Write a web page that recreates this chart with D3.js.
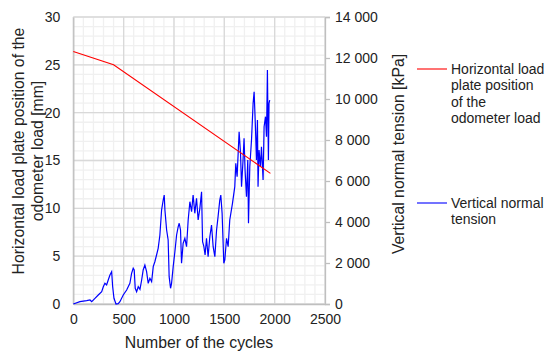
<!DOCTYPE html>
<html>
<head>
<meta charset="utf-8">
<script src="https://cdn.jsdelivr.net/npm/d3@7"></script>
<style>
  body { margin: 0; background: #fff; }
  svg { font-family: "Liberation Sans", Arial, sans-serif; }
</style>
</head>
<body>
<svg width="546" height="354"></svg>
<script>
// horizontal load plate position [mm] vs cycles
var posCycles = [0, 400, 1958];
var posMm = [26.4, 25.0, 13.65];

// vertical normal tension [kPa] vs cycles
var tensionCycles = [0, 66, 133, 166, 183, 215, 248, 282, 298, 314, 331, 347, 364, 381, 391, 404, 424, 446, 463, 496,
    530, 562, 579, 595, 605, 615, 629, 645, 662, 679, 694, 711, 728, 744, 761, 778, 794, 810, 827, 843,
    860, 877, 893, 903, 910, 927, 942, 952, 966, 976, 992, 1009, 1026, 1042, 1052, 1065, 1075, 1091, 1108, 1125,
    1141, 1158, 1175, 1190, 1207, 1224, 1240, 1257, 1274, 1284, 1297, 1309, 1323, 1339, 1356, 1373, 1389, 1406, 1423, 1438,
    1455, 1465, 1478, 1495, 1505, 1522, 1538, 1554, 1581, 1604, 1614, 1627, 1647, 1661, 1671, 1686, 1696, 1706, 1720, 1733,
    1740, 1753, 1770, 1786, 1796, 1809, 1819, 1829, 1835, 1845, 1859, 1869, 1879, 1885, 1895, 1909, 1919, 1928, 1938, 1944, 1951];
var tensionKPa = [0, 112, 161, 195, 112, 278, 439, 600, 844, 1010, 927, 1171, 1415, 1576, 844, 278, 0, 20, 112, 439,
    683, 1010, 1498, 1741, 1659, 766, 600, 844, 717, 1171, 1659, 1902, 1576, 1010, 1254, 1088, 1820, 2063, 2390, 2717,
    3366, 4585, 5073, 5317, 4585, 3610, 3122, 1332, 766, 1010, 1820, 2551, 3366, 3771, 3937, 3610, 1985, 2961, 3205, 2795,
    4098, 4990, 4502, 5317, 4424, 5156, 4098, 4668, 5478, 3039, 2795, 2390, 3205, 2307, 3283, 3854, 2795, 2307, 3610, 4259,
    5073, 5317, 4424, 1985, 2146, 3205, 2795, 4098, 4912, 5722, 6863, 6210, 8405, 7351, 5722, 7024, 8083, 6537, 5234, 7024,
    3937, 6698, 8000, 9790, 10356, 8649, 7024, 8976, 5722, 7512, 6698, 7673, 6698, 6049, 8649, 9137, 8161, 11415, 7024, 9790, 9951];

var xTicks = [0, 500, 1000, 1500, 2000, 2500];
var leftTicks = [0, 5, 10, 15, 20, 25, 30];
var rightTicks = [0, 2000, 4000, 6000, 8000, 10000, 12000, 14000];

var svg = d3.select("svg"),
    plotLeft = 73.3,
    plotRight = 325,
    plotTop = 17,
    plotBottom = 304;

var x = d3.scaleLinear().domain([0, 2500]).range([plotLeft, plotRight]);
var yL = d3.scaleLinear().domain([0, 30]).range([plotBottom, plotTop]);
var yR = d3.scaleLinear().domain([0, 14000]).range([plotBottom, plotTop]);

// minor grid
var minorX = d3.range(0, 2501, 100);
var minorY = d3.range(0, 31, 1);
var grid = svg.append("g");
minorX.forEach(function (v) {
    grid.append("line").attr("x1", x(v)).attr("x2", x(v)).attr("y1", plotTop).attr("y2", plotBottom)
        .attr("stroke", "#f0f0f0").attr("stroke-width", 1.3);
});
minorY.forEach(function (v) {
    grid.append("line").attr("x1", plotLeft).attr("x2", plotRight).attr("y1", yL(v)).attr("y2", yL(v))
        .attr("stroke", "#f0f0f0").attr("stroke-width", 1.3);
});
// major grid
xTicks.forEach(function (v) {
    grid.append("line").attr("x1", x(v)).attr("x2", x(v)).attr("y1", plotTop).attr("y2", plotBottom)
        .attr("stroke", "#d9d9d9").attr("stroke-width", 1.3);
});
leftTicks.forEach(function (v) {
    grid.append("line").attr("x1", plotLeft).attr("x2", plotRight).attr("y1", yL(v)).attr("y2", yL(v))
        .attr("stroke", "#d9d9d9").attr("stroke-width", 1.3);
});

// axes
var fontSize = "14px";
var xAxis = svg.append("g").attr("transform", "translate(0," + plotBottom + ")")
    .call(d3.axisBottom(x).tickValues(xTicks).tickSize(0).tickPadding(10).tickFormat(d3.format("d")));
var lAxis = svg.append("g").attr("transform", "translate(" + plotLeft + ",0)")
    .call(d3.axisLeft(yL).tickValues(leftTicks).tickSize(0).tickPadding(13));
var fmt = function (d) { return d3.format(",")(d).replace(/,/g, " "); };
var rAxis = svg.append("g").attr("transform", "translate(" + plotRight + ",0)")
    .call(d3.axisRight(yR).tickValues(rightTicks).tickSize(5).tickPadding(5).tickFormat(fmt));

[xAxis, lAxis, rAxis].forEach(function (a) {
    a.select(".domain").attr("stroke", "#bfbfbf").attr("stroke-width", 1.3);
    a.selectAll(".tick line").attr("stroke", "#bfbfbf").attr("stroke-width", 1.3);
    a.selectAll("text").attr("font-size", fontSize).attr("fill", "#222")
        .attr("font-family", "Liberation Sans, Arial, sans-serif");
});

// lines
var lineT = d3.line().x(function (d) { return x(d[0]); }).y(function (d) { return yR(d[1]); });
var lineP = d3.line().x(function (d) { return x(d[0]); }).y(function (d) { return yL(d[1]); });

svg.append("path")
    .datum(d3.zip(tensionCycles, tensionKPa))
    .attr("d", lineT)
    .attr("fill", "none")
    .attr("stroke", "#0000ff")
    .attr("stroke-width", 1.2);

svg.append("path")
    .datum(d3.zip(posCycles, posMm))
    .attr("d", lineP)
    .attr("fill", "none")
    .attr("stroke", "#ff0000")
    .attr("stroke-width", 1.1);

// axis titles
var titleSize = "15.8px";
svg.append("text")
    .attr("transform", "translate(199,348)")
    .attr("text-anchor", "middle")
    .attr("font-size", titleSize)
    .attr("fill", "#222")
    .text("Number of the cycles");

var lt = svg.append("text")
    .attr("transform", "translate(23.5,151) rotate(-90)")
    .attr("text-anchor", "middle")
    .attr("font-size", titleSize)
    .attr("fill", "#222");
lt.append("tspan").attr("x", 0).attr("y", 0).text("Horizontal load plate position of the");
lt.append("tspan").attr("x", 0).attr("y", 19).text("odometer load [mm]");

svg.append("text")
    .attr("transform", "translate(403.5,154) rotate(-90)")
    .attr("text-anchor", "middle")
    .attr("font-size", titleSize)
    .attr("fill", "#222")
    .text("Vertical normal tension [kPa]");

// legend
var legend = [
    { color: "#ff0000", y: 69, lines: ["Horizontal load", "plate position", "of the", "odometer load"] },
    { color: "#0000ff", y: 203, lines: ["Vertical normal", "tension"] }
];
legend.forEach(function (item) {
    svg.append("line")
        .attr("x1", 417).attr("x2", 447)
        .attr("y1", item.y).attr("y2", item.y)
        .attr("stroke", item.color).attr("stroke-width", 1.1);
    var t = svg.append("text").attr("font-size", "14px").attr("fill", "#222");
    item.lines.forEach(function (s, i) {
        t.append("tspan").attr("x", 451).attr("y", item.y + 5 + i * 16.3).text(s);
    });
});
</script>
</body>
</html>
